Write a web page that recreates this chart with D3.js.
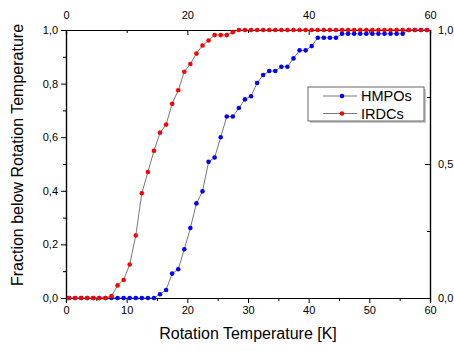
<!DOCTYPE html>
<html>
<head>
<meta charset="utf-8">
<script src="https://cdn.jsdelivr.net/npm/d3@7"></script>
<style>
  body { margin: 0; background: #fff; }
  svg text { font-family: Arial, "Liberation Sans", sans-serif; }
</style>
</head>
<body>
<div id="chart"></div>
<script>
// Temperature bins (K), centre of each 1 K bin
var temps = d3.range(0.5, 60, 1);

// Cumulative fraction below rotation temperature
var hmpos = [
  0, 0, 0, 0, 0, 0, 0, 0, 0, 0,
  0, 0, 0, 0, 0, 0.014, 0.030, 0.091, 0.107, 0.182,
  0.261, 0.353, 0.398, 0.508, 0.524, 0.600, 0.677, 0.677, 0.709, 0.741,
  0.753, 0.802, 0.832, 0.847, 0.847, 0.863, 0.863, 0.894, 0.924, 0.924,
  0.940, 0.971, 0.971, 0.971, 0.971, 0.986, 0.986, 0.986, 0.986, 0.986,
  0.986, 0.986, 0.986, 0.986, 0.986, 0.986, 1, 1, 1, 1
];
var irdcs = [
  0, 0, 0, 0, 0, 0, 0, 0.007, 0.047, 0.067,
  0.125, 0.233, 0.391, 0.470, 0.549, 0.617, 0.647, 0.725, 0.775, 0.844,
  0.873, 0.912, 0.942, 0.961, 0.981, 0.981, 0.981, 0.992, 1, 1,
  1, 1, 1, 1, 1, 1, 1, 1, 1, 1,
  1, 1, 1, 1, 1, 1, 1, 1, 1, 1,
  1, 1, 1, 1, 1, 1, 1, 1, 1, 1
];

var seriesNames = ['HMPOs', 'IRDCs'];
var seriesColors = ['#0000ff', '#ff0000'];

var W = 454, H = 351;
var margin = { top: 30, right: 24, bottom: 53, left: 66 };
var w = W - margin.left - margin.right;   // 364
var h = H - margin.top - margin.bottom;   // 268

var svg = d3.select('#chart').append('svg')
  .attr('width', W)
  .attr('height', H);

var g = svg.append('g')
  .attr('transform', 'translate(' + margin.left + ',' + margin.top + ')');

var x = d3.scaleLinear().domain([0, 60]).range([0, w]);
var y = d3.scaleLinear().domain([0, 1]).range([h, 0]);

var comma = function (d) { return d3.format('.1f')(d).replace('.', ','); };

// styling helper for axes
function styleAxis(sel) {
  sel.select('.domain').attr('stroke', '#000').attr('stroke-width', 1.2);
  sel.selectAll('.tick line').attr('stroke', '#000').attr('stroke-width', 1);
  sel.selectAll('.tick text').attr('font-size', '11px').attr('fill', '#000');
}

// Bottom axis: minor ticks then major
g.append('g').attr('transform', 'translate(0,' + h + ')')
  .call(d3.axisBottom(x).tickValues(d3.range(5, 60, 10)).tickSize(3).tickFormat(''))
  .call(styleAxis);
g.append('g').attr('transform', 'translate(0,' + h + ')')
  .call(d3.axisBottom(x).tickValues(d3.range(0, 61, 10)).tickSize(5).tickPadding(3))
  .call(styleAxis);

// Left axis
g.append('g')
  .call(d3.axisLeft(y).tickValues(d3.range(0.1, 1, 0.2)).tickSize(3).tickFormat(''))
  .call(styleAxis);
g.append('g')
  .call(d3.axisLeft(y).tickValues([0, 0.2, 0.4, 0.6, 0.8, 1.0]).tickSize(5).tickPadding(3).tickFormat(comma))
  .call(styleAxis);

// Top axis (ticks inward)
g.append('g')
  .call(d3.axisTop(x).tickValues([10, 30, 50]).tickSize(-3).tickFormat(''))
  .call(styleAxis);
g.append('g')
  .call(d3.axisTop(x).tickValues([0, 20, 40, 60]).tickSize(-5).tickPadding(11))
  .call(styleAxis);

// Right axis (ticks inward)
g.append('g').attr('transform', 'translate(' + w + ',0)')
  .call(d3.axisRight(y).tickValues([0.25, 0.75]).tickSize(-3).tickFormat(''))
  .call(styleAxis);
g.append('g').attr('transform', 'translate(' + w + ',0)')
  .call(d3.axisRight(y).tickValues([0, 0.5, 1]).tickSize(-5).tickPadding(8).tickFormat(comma))
  .call(styleAxis);

// Series
var line = d3.line()
  .x(function (d) { return x(d[0]); })
  .y(function (d) { return y(d[1]); });

[hmpos, irdcs].forEach(function (vals, i) {
  var pts = temps.map(function (t, k) { return [t, vals[k]]; });
  g.append('path')
    .datum(pts)
    .attr('fill', 'none')
    .attr('stroke', '#555')
    .attr('stroke-width', 0.8)
    .attr('d', line);
  g.selectAll('.dot' + i)
    .data(pts)
    .join('circle')
    .attr('class', 'dot' + i)
    .attr('cx', function (d) { return x(d[0]); })
    .attr('cy', function (d) { return y(d[1]); })
    .attr('r', 2.3)
    .attr('fill', seriesColors[i]);
});

// Legend
var lg = svg.append('g').attr('transform', 'translate(308,87)');
lg.append('rect')
  .attr('x', 2).attr('y', 2)
  .attr('width', 116).attr('height', 34)
  .attr('fill', '#c8c8c8');
lg.append('rect')
  .attr('width', 116).attr('height', 34)
  .attr('fill', '#fff')
  .attr('stroke', '#666')
  .attr('stroke-width', 1);
seriesNames.forEach(function (name, i) {
  var ly = 9 + i * 17.5;
  lg.append('line')
    .attr('x1', 15).attr('x2', 49)
    .attr('y1', ly).attr('y2', ly)
    .attr('stroke', '#555').attr('stroke-width', 0.8);
  lg.append('circle')
    .attr('cx', 34).attr('cy', ly).attr('r', 2.3)
    .attr('fill', seriesColors[i]);
  lg.append('text')
    .attr('x', 53).attr('y', ly + 5)
    .attr('font-size', '14.5px')
    .attr('fill', '#000')
    .text(name);
});

// Axis titles
svg.append('text')
  .attr('x', margin.left + w / 2)
  .attr('y', 339)
  .attr('text-anchor', 'middle')
  .attr('font-size', '16px')
  .text('Rotation Temperature [K]');

svg.append('text')
  .attr('transform', 'translate(23,' + (margin.top + h / 2 - 9) + ') rotate(-90)')
  .attr('text-anchor', 'middle')
  .attr('font-size', '16px')
  .text('Fraction below Rotation Temperature');
</script>
</body>
</html>
